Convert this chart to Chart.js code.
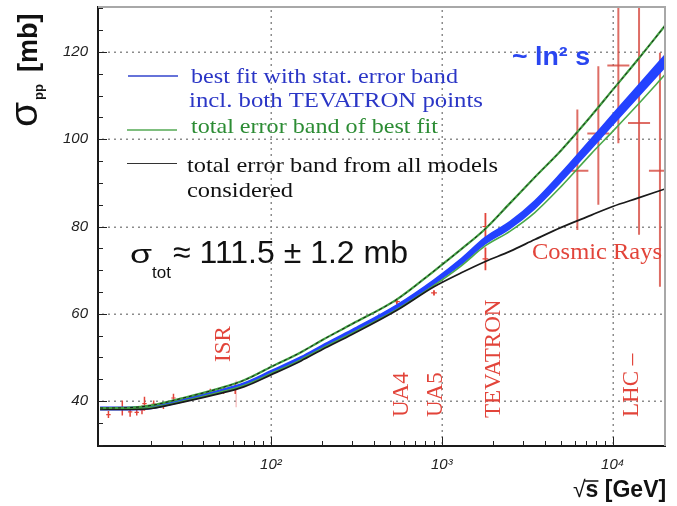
<!DOCTYPE html>
<html>
<head>
<meta charset="utf-8">
<script src="https://cdn.jsdelivr.net/npm/chart.js@4.4.1/dist/chart.umd.min.js"></script>
<style>
  html, body { margin: 0; padding: 0; background: #fff; }
  #wrap { width: 677px; height: 506px; }
</style>
</head>
<body>
<div id="wrap"><canvas id="chart" width="677" height="506"></canvas></div>
<script>
// sqrt(s) grid of the fit curves [GeV]
var energy      = [10, 15, 20, 30, 50, 70, 100, 150, 200, 300, 546, 900, 1300, 1800, 2500, 3500, 5000, 7500, 10000, 14000, 20230];
// upper edge, shared by both error bands [mb]
var upperEdge   = [38.4, 38.5, 39.0, 40.6, 42.9, 44.8, 47.8, 51.2, 54.0, 57.7, 63.3, 69.8, 74.8, 79.5, 85.3, 91.3, 97.5, 105.4, 111.3, 118.2, 126.0];
// best fit and its stat. error
var bestFit     = [38.3, 38.3, 38.6, 40.1, 42.2, 43.9, 46.6, 49.8, 52.4, 56.0, 61.6, 67.3, 72.0, 76.8, 80.3, 85.0, 91.3, 99.0, 104.5, 110.9, 117.9];
var bestFitErr  = [0.3, 0.3, 0.3, 0.3, 0.3, 0.3, 0.35, 0.35, 0.4, 0.4, 0.45, 0.5, 0.65, 0.75, 0.8, 0.9, 1.0, 1.1, 1.2, 1.3, 1.4];
// lower edge of total error band of best fit
var fitLower    = [38.2, 38.2, 38.5, 39.9, 42.0, 43.6, 46.3, 49.5, 52.1, 55.6, 61.0, 66.5, 71.0, 75.6, 78.9, 83.2, 89.2, 96.7, 101.8, 107.9, 114.8];
// lower edge of band from all models
var modelsLower = [38.1, 38.1, 38.3, 39.7, 41.7, 43.3, 46.0, 49.2, 51.8, 55.3, 60.8, 66.2, 69.4, 72.0, 74.3, 77.0, 79.8, 82.6, 84.6, 86.5, 88.6];

// measurements
var lowE     = [11.2, 13.5, 15.0, 16.4, 17.6, 18.2, 20.6, 23.5, 26.9, 30.8, 44.2, 52.8, 61.8];
var lowSigma = [36.9, 38.4, 37.5, 37.4, 38.0, 39.4, 39.3, 39.0, 40.7, 40.3, 42.0, 42.4, 42.8];
var lowErr   = [0.8, 1.7, 1.1, 0.7, 1.0, 1.6, 0.8, 0.8, 1.0, 0.6, 0.8, 0.8, 1.2];
var isrWideE = [62.6];
var isrWideLo = [38.6];
var isrWideHi = [44.7];
var colE     = [546, 900, 1800, 1800];
var colSigma = [62.8, 64.8, 80.0, 72.6];
var colErr   = [0.7, 0.6, 3.1, 2.6];
var crE      = [6210, 8240, 10790, 14260, 18900];
var crSigma  = [92.8, 101.3, 116.9, 103.7, 92.8];
var crLow    = [79.2, 85.0, 99.1, 78.1, 66.2];
var crHigh   = [106.8, 116.7, 140, 140, 119.8];

// axes
var xMin = 9.73, xMax = 20230;
var yMin = 29.7, yMax = 130.3;
var xTicks = [20, 30, 40, 50, 60, 70, 80, 90, 100, 200, 300, 400, 500, 600, 700, 800, 900, 1000,
              2000, 3000, 4000, 5000, 6000, 7000, 8000, 9000, 10000, 20000];
var xTickLabels = {100: '10\u00B2', 1000: '10\u00B3', 10000: '10\u2074'};
var xGrid = [100, 1000, 10000];
var yTicks = [30, 35, 40, 45, 50, 55, 60, 65, 70, 75, 80, 85, 90, 95, 100, 105, 110, 115, 120, 125, 130];
var yTickLabels = [40, 60, 80, 100, 120];

function curve(ys) {
    return energy.map(function(e, i) { return {x: e, y: ys[i]}; });
}

function errorBars(xs, lo, hi) {
    var pts = [];
    xs.forEach(function(e, i) {
        pts.push({x: e, y: lo[i]}, {x: e, y: hi[i]}, {x: e, y: null});
    });
    return pts;
}

function caps(xs, ys, f) {
    var pts = [];
    xs.forEach(function(e, i) {
        pts.push({x: e / f, y: ys[i]}, {x: e * f, y: ys[i]}, {x: e, y: null});
    });
    return pts;
}

var blueHi = bestFit.map(function(v, i) { return v + bestFitErr[i]; });
var blueLo = bestFit.map(function(v, i) { return v - bestFitErr[i]; });
var lowLo = lowSigma.map(function(v, i) { return v - lowErr[i]; });
var lowHi = lowSigma.map(function(v, i) { return v + lowErr[i]; });
var colLo = colSigma.map(function(v, i) { return v - colErr[i]; });
var colHi = colSigma.map(function(v, i) { return v + colErr[i]; });

var RED = '#e2443a';

function line(data, color, width, order, extra) {
    var ds = {
        data: data, borderColor: color, borderWidth: width, pointRadius: 0,
        fill: false, order: order, cubicInterpolationMode: 'monotone', spanGaps: false
    };
    for (var k in extra) ds[k] = extra[k];
    return ds;
}

function bars(data, color, width, order) {
    return line(data, color, width, order, {tension: 0, cubicInterpolationMode: 'default'});
}

function fitText(ctx, txt, x, y, w) {
    var m = ctx.measureText(txt).width;
    ctx.save();
    ctx.translate(x, y);
    ctx.scale(w / m, 1);
    ctx.fillText(txt, 0, 0);
    ctx.restore();
}

function vText(ctx, txt, x, y) {
    ctx.save();
    ctx.translate(x, y);
    ctx.rotate(-Math.PI / 2);
    ctx.fillText(txt, 0, 0);
    ctx.restore();
}

var decorations = {
    id: 'decorations',
    beforeDatasetsDraw: function(chart) {
        var ctx = chart.ctx, a = chart.chartArea;
        var xs = chart.scales.x, ys = chart.scales.y;
        var i, p;
        ctx.save();

        // dotted grid at the labelled ticks
        ctx.fillStyle = '#8c8c8c';
        xGrid.forEach(function(v) {
            var px = Math.round(xs.getPixelForValue(v));
            for (p = a.bottom - 4; p > a.top; p -= 6) ctx.fillRect(px - 0.5, p, 1.5, 2);
        });
        yTickLabels.forEach(function(v) {
            var py = Math.round(ys.getPixelForValue(v));
            for (p = a.left + 4; p < a.right; p += 6) ctx.fillRect(p, py - 0.5, 2, 1.5);
        });

        // inward tick marks
        ctx.strokeStyle = '#222';
        ctx.lineWidth = 1;
        ctx.beginPath();
        xTicks.forEach(function(v) {
            var px = Math.round(xs.getPixelForValue(v)) + 0.5;
            var len = xTickLabels[v] ? 9 : 5;
            ctx.moveTo(px, a.bottom);
            ctx.lineTo(px, a.bottom - len);
        });
        yTicks.forEach(function(v) {
            var py = Math.round(ys.getPixelForValue(v)) + 0.5;
            var len = yTickLabels.indexOf(v) >= 0 ? 9 : 5;
            ctx.moveTo(a.left, py);
            ctx.lineTo(a.left + len, py);
        });
        ctx.stroke();
        ctx.restore();
    },
    afterDraw: function(chart) {
        var ctx = chart.ctx, a = chart.chartArea;
        ctx.save();

        // top / right frame
        ctx.strokeStyle = '#a8a8a8';
        ctx.lineWidth = 2;
        ctx.beginPath();
        ctx.moveTo(a.left, a.top);
        ctx.lineTo(a.right, a.top);
        ctx.lineTo(a.right, a.bottom);
        ctx.stroke();

        // legend
        ctx.lineWidth = 1.5;
        ctx.strokeStyle = '#3344cc';
        ctx.beginPath(); ctx.moveTo(128, 76); ctx.lineTo(178, 76); ctx.stroke();
        ctx.strokeStyle = '#55aa55';
        ctx.beginPath(); ctx.moveTo(127, 130); ctx.lineTo(177, 130); ctx.stroke();
        ctx.lineWidth = 1;
        ctx.strokeStyle = '#333';
        ctx.beginPath(); ctx.moveTo(127, 163.5); ctx.lineTo(177, 163.5); ctx.stroke();

        ctx.font = '22px "Liberation Serif"';
        ctx.textBaseline = 'alphabetic';
        ctx.fillStyle = '#2b36c6';
        fitText(ctx, 'best fit with stat. error band', 191, 83, 267);
        fitText(ctx, 'incl. both TEVATRON points', 189, 107, 294);
        ctx.fillStyle = '#2c8c34';
        fitText(ctx, 'total error band of best fit', 191, 133, 247);
        ctx.fillStyle = '#111';
        fitText(ctx, 'total error band from all models', 187, 172, 311);
        fitText(ctx, 'considered', 187, 197, 106);

        // sigma_tot
        ctx.fillStyle = '#111';
        ctx.font = '26px "Liberation Sans"';
        fitText(ctx, '\u03C3', 130, 263, 22);
        ctx.font = '17px "Liberation Sans"';
        ctx.fillText('tot', 152, 278);
        ctx.font = '32px "Liberation Sans"';
        ctx.fillText('\u2248 111.5 \u00B1 1.2 mb', 173, 263);

        // ~ ln^2 s
        ctx.fillStyle = '#2a46f0';
        ctx.font = 'bold 26px "Liberation Sans"';
        fitText(ctx, '~ ln\u00B2 s', 512, 65, 78);

        // experiment labels
        ctx.fillStyle = RED;
        ctx.font = '23px "Liberation Serif"';
        vText(ctx, 'ISR', 230, 362);
        vText(ctx, 'UA4', 408, 417);
        vText(ctx, 'UA5', 442, 417);
        vText(ctx, 'TEVATRON', 500, 418);
        vText(ctx, 'LHC \u2013', 638, 417);
        fitText(ctx, 'Cosmic Rays', 532, 259, 130);

        // axis titles
        ctx.fillStyle = '#111';
        ctx.save();
        ctx.translate(37, 127);
        ctx.rotate(-Math.PI / 2);
        ctx.font = '38px "Liberation Sans"';
        fitText(ctx, '\u03C3', 0, 0, 25);
        ctx.font = 'bold 13px "Liberation Sans"';
        ctx.fillText('pp', 27, 6);
        ctx.font = 'bold 27px "Liberation Sans"';
        ctx.fillText('[mb]', 55, 0);
        ctx.restore();

        ctx.font = '23px "Liberation Sans"';
        var rw = ctx.measureText('\u221A').width;
        ctx.fillText('\u221A', 573, 497);
        ctx.font = 'bold 23px "Liberation Sans"';
        var sw = ctx.measureText('s').width;
        ctx.fillText('s [GeV]', 573 + rw, 497);
        ctx.lineWidth = 1.5;
        ctx.strokeStyle = '#111';
        ctx.beginPath();
        ctx.moveTo(573 + rw - 1, 481);
        ctx.lineTo(573 + rw + sw, 481);
        ctx.stroke();

        ctx.restore();
    }
};

var ctx = document.getElementById('chart').getContext('2d');

new Chart(ctx, {
    type: 'line',
    data: {
        datasets: [
            line(curve(upperEdge), '#1a1a1a', 1, 0, {borderDash: [3, 3]}),
            line(curve(upperEdge), '#3f9f3f', 2.2, 1),
            line(curve(modelsLower), '#1a1a1a', 1.7, 2),
            line(curve(fitLower), '#4aa84a', 1.6, 3),
            line(curve(blueHi), '#2342ff', 1.5, 4, {fill: '+1', backgroundColor: '#2342ff'}),
            line(curve(blueLo), '#2342ff', 1.5, 5),
            bars(errorBars(lowE, lowLo, lowHi), RED, 1.5, 6),
            bars(caps(lowE, lowSigma, 1.03), RED, 1.2, 7),
            bars(errorBars(isrWideE, isrWideLo, isrWideHi), 'rgba(240,140,140,0.5)', 1.5, 8),
            bars(errorBars(colE, colLo, colHi), RED, 1.8, 9),
            bars(caps(colE, colSigma, 1.04), RED, 1.2, 10),
            bars(errorBars(crE, crLow, crHigh), 'rgba(214,72,62,0.8)', 2, 11),
            bars(caps(crE, crSigma, 1.16), 'rgba(214,72,62,0.8)', 2, 12)
        ]
    },
    options: {
        responsive: false,
        animation: false,
        layout: {padding: {top: 7, right: 12, bottom: 0, left: 0}},
        plugins: {
            legend: {display: false},
            tooltip: {enabled: false}
        },
        scales: {
            x: {
                type: 'logarithmic',
                min: xMin,
                max: xMax,
                afterBuildTicks: function(s) {
                    s.ticks = xTicks.map(function(v) { return {value: v}; });
                },
                afterFit: function(s) {
                    s.height = 60;
                    s.paddingLeft = 0;
                    s.paddingRight = 0;
                },
                grid: {display: false, drawTicks: false},
                border: {color: '#1a1a1a', width: 2},
                ticks: {
                    autoSkip: false,
                    maxRotation: 0,
                    padding: 10,
                    color: '#222',
                    font: {family: 'Liberation Sans', size: 15, style: 'italic'},
                    callback: function(v) { return xTickLabels[v] || ''; }
                }
            },
            y: {
                type: 'linear',
                min: yMin,
                max: yMax,
                afterBuildTicks: function(s) {
                    s.ticks = yTicks.map(function(v) { return {value: v}; });
                },
                afterFit: function(s) {
                    s.width = 98;
                    s.paddingTop = 0;
                    s.paddingBottom = 0;
                },
                grid: {display: false, drawTicks: false},
                border: {color: '#1a1a1a', width: 2},
                ticks: {
                    autoSkip: false,
                    padding: 10,
                    color: '#222',
                    font: {family: 'Liberation Sans', size: 15, style: 'italic'},
                    callback: function(v) { return yTickLabels.indexOf(v) >= 0 ? String(v) : ''; }
                }
            }
        }
    },
    plugins: [decorations]
});
</script>
</body>
</html>
